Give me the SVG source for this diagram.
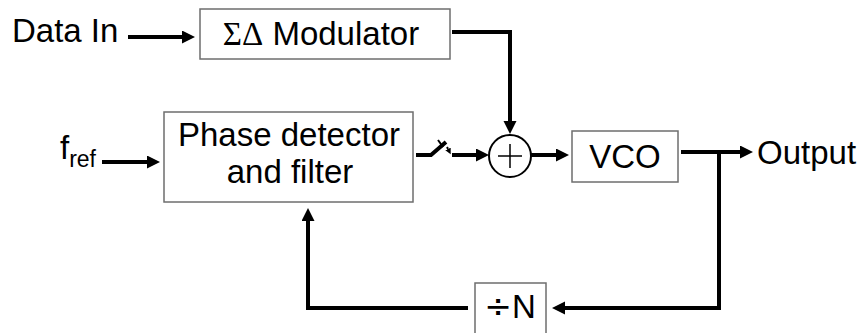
<svg xmlns="http://www.w3.org/2000/svg" width="865" height="333" viewBox="0 0 865 333">
<style>
.box{fill:#fff;stroke:#6e6e6e;stroke-width:1.5}
.lbl{font-family:"Liberation Sans",Arial,sans-serif;font-size:33px;fill:#000}
.wire{fill:none;stroke:#000;stroke-width:4}
.thin{fill:none;stroke:#000;stroke-width:2}
</style>
<defs>
<marker id="ah" markerUnits="userSpaceOnUse" markerWidth="14" markerHeight="14" refX="0" refY="6.5" orient="auto">
<path d="M0,0 L13,6.5 L0,13 z" fill="#000"/>
</marker>
<marker id="sa" markerUnits="userSpaceOnUse" markerWidth="8" markerHeight="8" refX="0" refY="3" orient="auto">
<path d="M0,0 L6,3 L0,6 z" fill="#000"/>
</marker>
</defs>
<g id="connectors">
<path class="wire" d="M128,37 H182" marker-end="url(#ah)"/>
<path class="wire" d="M452,32 H510 V121" marker-end="url(#ah)"/>
<path class="wire" d="M102,162 H147" marker-end="url(#ah)"/>
<path class="wire" d="M416,155 H431 L446,142" stroke-width="3.5"/>
<path class="thin" d="M438,140 L443,147"/>
<path class="thin" d="M447,147 L448,149" marker-end="url(#sa)"/>
<path class="wire" d="M452,155 H476" marker-end="url(#ah)"/>
<path class="wire" d="M531,155 H556" marker-end="url(#ah)"/>
<path class="wire" d="M681,152 H740" marker-end="url(#ah)"/>
<path class="wire" d="M719,152 V308 H565" marker-end="url(#ah)"/>
<path class="wire" d="M468,308 H308 V221" marker-end="url(#ah)"/>
</g>
<g id="data-in"><text class="lbl" x="12" y="42">Data In</text></g>
<g id="modulator">
<rect class="box" x="200" y="9" width="250" height="50"/>
<text class="lbl" x="321" y="45" text-anchor="middle"><tspan font-family="'Liberation Serif',serif">ΣΔ</tspan> Modulator</text>
</g>
<g id="fref"><text class="lbl" x="60" y="159">f<tspan font-size="23" dy="8">ref</tspan></text></g>
<g id="phase-detector">
<rect class="box" x="164" y="112" width="249" height="90"/>
<text class="lbl" x="289" y="146" text-anchor="middle">Phase detector</text>
<text class="lbl" x="290" y="183" text-anchor="middle">and filter</text>
</g>
<g id="summer">
<circle cx="510" cy="156" r="21" fill="#fff" stroke="#000" stroke-width="2"/>
<path d="M498,156 H522 M510,144 V168" stroke="#000" stroke-width="1.5"/>
</g>
<g id="vco">
<rect class="box" x="572" y="131" width="106" height="51"/>
<text class="lbl" x="625" y="168" text-anchor="middle">VCO</text>
</g>
<g id="output"><text class="lbl" x="757" y="164">Output</text></g>
<g id="divider">
<rect class="box" x="475" y="283" width="71" height="55"/>
<text class="lbl" x="510" y="318" text-anchor="middle"><tspan font-family="'DejaVu Sans',sans-serif">÷</tspan>N</text>
</g>
</svg>
